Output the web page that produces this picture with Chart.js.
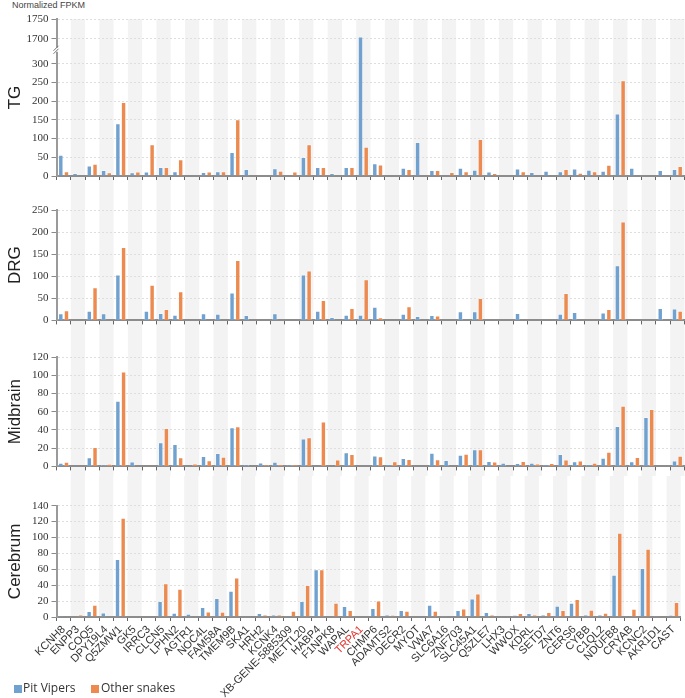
<!DOCTYPE html>
<html>
<head>
<meta charset="utf-8">
<script src="https://cdn.jsdelivr.net/npm/chart.js@4.4.1/dist/chart.umd.min.js"></script>
<style>
  body { margin: 0; background: #fff; }
  #wrap { position: relative; width: 685px; height: 698px; overflow: hidden; font-family: "Liberation Sans", Arial, sans-serif; }
  .panel { position: absolute; left: 0; }
  #unit { position: absolute; left: 12px; top: 0px; font-size: 9px; color: #444; }
  .sw { position: absolute; width: 8px; height: 8px; top: 685px; }
  .lg { position: absolute; top: 679px; font-family: "Open Sans", sans-serif; font-size: 12px; color: #333; }
</style>
</head>
<body>
<div id="wrap">
  <div id="unit">Normalized FPKM</div>
  <canvas id="tg" class="panel"></canvas>
  <canvas id="drg" class="panel"></canvas>
  <canvas id="mid" class="panel"></canvas>
  <canvas id="cer" class="panel"></canvas>
  <span class="sw" id="sw1" style="left:14px"></span><span class="lg" style="left:23px">Pit Vipers</span>
  <span class="sw" id="sw2" style="left:91px"></span><span class="lg" style="left:101px">Other snakes</span>
</div>
<script>
var genes = ['KCNH8','ENPP3','COQ5','DPY19L4','Q5ZMW1','GK5','IRRC3','CLCN5','LPHN2','AGTR1',
  'NOC4L','FAM58A','TMEM9B','SKA1','HRH2','KCNK4','XB-GENE-5885309','METTL20','HABP4','F1NPK8',
  'WAPAL','TRPA1','CHMP6','ADAMTS2','DECR2','MYOT','VWA7','SLC6A16','ZNF703','SLC45A1',
  'Q5ZLE7','LHX3','WWOX','KDRL','SETD7','ZNT6','CERS6','CYBB','C1QL2','NDUFB8',
  'CRYAB','KCNC2','AKR1D1','CAST'];

// TG
var tgPit = [57,8,28,16,141,10,12,24,13,null, 11,13,64,19,null,21,null,51,24,8,
  24,1706,34,null,22,91,16,null,22,17, 12,null,20,11,14,13,20,17,14,167, 22,null,16,19];
var tgOther = [13,null,33,10,198,12,85,24,45,null, 12,13,152,null,null,14,12,85,24,null,
  24,78,31,null,19,null,16,11,13,99, 8,null,13,null,null,19,9,12.5,30,256, null,null,null,27];
// DRG
var drgPit = [16,null,22,16,104,null,22,17,13,null, 16,15,63,12,null,16,null,104,22,7.5,
  13,13,31,null,15,10,12,null,21,21, null,null,17,null,null,15,19,null,18,125, null,null,28,27];
var drgOther = [23,null,75,null,166,null,81,26,66,null, null,null,137,null,null,null,null,113,46,null,
  28,93,7,null,32,null,11,null,null,51, null,null,null,null,null,62,null,null,26,224, null,null,null,22];
// Midbrain
var midPit = [4,null,10,2,72,5.4,null,26.4,24.6,null, 11.4,14.6,43,2,4.3,5,1.8,30.7,null,null,
  15.5,null,12,2.5,9.3,null,15,7.1,12.9,18.9, 6,3.9,3.6,3.9,2.1,13.6,5.7,2.5,9.6,44.3, 5.7,54.3,null,6.4];
var midOther = [5,null,21.4,3,104,null,null,42,10,3.2, 6.8,10.7,44,null,2,2.5,2,32,49.3,7.5,
  13.6,null,11,5.7,8.2,null,7.9,null,13.9,18.9, 5.4,null,6,3.2,3.6,7.5,6.4,3.9,16,66.4, 10.4,62.9,null,11.8];
// Cerebrum
var cerPit = [1.7,null,7.5,5.8,72.8,null,null,20,5.4,4.2, 12.5,24,33,null,5,2.9,1.7,20,60,null,
  13.75,null,11.25,2.9,8.75,null,15.4,1.7,8.75,23.3, 6.25,null,2.5,5,2.9,14.2,17.9,2.9,2.9,53.3, null,61.5,2.1,2.5];
var cerOther = [null,3.3,15.4,null,125,null,null,42.5,35.4,null, 7,6.7,49.6,null,2.9,2.9,7.9,40.4,60,18,
  8.75,null,20.8,2.5,7.9,null,7.9,null,10.8,29.6, 3.3,null,5,2.9,6.25,8.75,22.5,9.2,5.4,106, 10.4,86,null,18.75];

var tgTicks = [0, 50, 100, 150, 200, 250, 300, 1700, 1750];

var BLUE = '#70a1cf';
var ORANGE = '#ec8a50';
var EDGE = 'rgba(255,255,255,0.3)';
var RED_GENE = 'TRPA1';

document.getElementById('sw1').style.background = BLUE;
document.getElementById('sw2').style.background = ORANGE;

// broken y axis for TG: value breakpoints and where they sit on the axis (0..1)
var brkVals = [0, 330, 1680, 1750];
var brkFrac = [0, 0.786, 0.822, 1];

function toFrac(v) {
  for (var i = 1; i < brkVals.length; i++) {
    if (v <= brkVals[i] || i == brkVals.length - 1) {
      var t = (v - brkVals[i-1]) / (brkVals[i] - brkVals[i-1]);
      return brkFrac[i-1] + t * (brkFrac[i] - brkFrac[i-1]);
    }
  }
}
function fromFrac(f) {
  for (var i = 1; i < brkFrac.length; i++) {
    if (f <= brkFrac[i] || i == brkFrac.length - 1) {
      var t = (f - brkFrac[i-1]) / (brkFrac[i] - brkFrac[i-1]);
      return brkVals[i-1] + t * (brkVals[i] - brkVals[i-1]);
    }
  }
}

class BrokenScale extends Chart.LinearScale {
  buildTicks() {
    this.min = brkVals[0];
    this.max = brkVals[brkVals.length - 1];
    return tgTicks.map(function (v) { return { value: v }; });
  }
  getPixelForValue(value) {
    return this.getPixelForDecimal(toFrac(value));
  }
  getValueForPixel(pixel) {
    return fromFrac(this.getDecimalForPixel(pixel));
  }
}
BrokenScale.id = 'broken';
BrokenScale.defaults = Chart.LinearScale.defaults;
Chart.register(BrokenScale);

// grey bands behind every other gene
var stripes = {
  id: 'stripes',
  beforeDraw: function (chart, args, opts) {
    var x = chart.scales.x, area = chart.chartArea, ctx = chart.ctx;
    var top = opts.top == 'area' ? area.top : 0;
    var bottom = opts.bottom == 'area' ? area.bottom : chart.height;
    var w = x.getPixelForValue(1) - x.getPixelForValue(0);
    ctx.save();
    ctx.fillStyle = '#f3f3f3';
    for (var i = 1; i < genes.length; i += 2) {
      ctx.fillRect(x.getPixelForValue(i) - w / 2, top, w, bottom - top);
    }
    ctx.restore();
  }
};

// the // mark on the TG axis
var breakMark = {
  id: 'breakMark',
  afterDraw: function (chart) {
    var y = chart.scales.y, ctx = chart.ctx;
    var ax = chart.chartArea.left;
    var mid = y.getPixelForValue((brkVals[1] + brkVals[2]) / 2);
    ctx.save();
    ctx.fillStyle = '#fff';
    ctx.fillRect(ax - 2, mid - 2, 4, 4);
    ctx.strokeStyle = '#777';
    ctx.lineWidth = 1;
    ctx.beginPath();
    ctx.moveTo(ax - 3, mid + 1); ctx.lineTo(ax + 2, mid - 4);
    ctx.moveTo(ax - 3, mid + 4); ctx.lineTo(ax + 2, mid - 1);
    ctx.stroke();
    ctx.restore();
  }
};

function makePanel(id, title, pit, other, p) {
  var cv = document.getElementById(id);
  cv.width = 685; cv.height = p.h;
  cv.style.top = p.top + 'px';
  var last = id == 'cer';

  var yScale = {
    type: p.broken ? 'broken' : 'linear',
    min: 0,
    max: p.max,
    ticks: {
      stepSize: p.step,
      autoSkip: false,
      padding: 3,
      color: '#333',
      font: { family: '"Liberation Serif", "Times New Roman", serif', size: 11 },
      callback: function (v) { return String(v); }
    },
    grid: { color: '#dedede', tickColor: '#8a8a8a', tickLength: 5 },
    border: { color: '#9a9a9a', width: 2, dash: [2, 2] },
    title: {
      display: true, text: title, color: '#222',
      font: { family: '"Liberation Sans", Arial, sans-serif', size: 17 },
      padding: { top: 5, bottom: 0 }
    },
    afterFit: function (s) { s.width = 56.5; }
  };

  var xScale = {
    grid: { offset: true, drawOnChartArea: false, tickLength: 4, tickColor: '#666' },
    border: { color: '#8c8c8c', width: 2 },
    ticks: {
      display: last,
      autoSkip: false,
      minRotation: 45,
      maxRotation: 45,
      padding: 2,
      font: { family: '"Liberation Sans", Arial, sans-serif', size: 11 },
      color: function (c) { return genes[c.index] == RED_GENE ? '#e8322d' : '#333'; }
    },
    afterFit: function (s) { s.height = p.xh; }
  };

  return new Chart(cv, {
    type: 'bar',
    data: {
      labels: genes,
      datasets: [
        { label: 'Pit Vipers', data: pit, backgroundColor: BLUE, borderColor: EDGE, borderWidth: 1 },
        { label: 'Other snakes', data: other, backgroundColor: ORANGE, borderColor: EDGE, borderWidth: 1 }
      ]
    },
    options: {
      responsive: false,
      animation: false,
      layout: { padding: { top: p.pt, bottom: p.pb, left: 0, right: 0.5 } },
      datasets: { bar: { categoryPercentage: 0.8, barPercentage: 0.95 } },
      plugins: {
        legend: { display: false },
        tooltip: { enabled: false },
        stripes: { top: p.stripeTop, bottom: p.stripeBottom }
      },
      scales: { x: xScale, y: yScale }
    },
    plugins: p.broken ? [stripes, breakMark] : [stripes]
  });
}

makePanel('tg', 'TG', tgPit, tgOther,
  { top: 0, h: 186, pt: 19, pb: 4, xh: 6, broken: true, max: 1750, step: 50, stripeTop: 'area', stripeBottom: 'canvas' });
makePanel('drg', 'DRG', drgPit, drgOther,
  { top: 186, h: 144, pt: 24, pb: 2.3, xh: 6, max: 250, step: 50, stripeTop: 'canvas', stripeBottom: 'canvas' });
makePanel('mid', 'Midbrain', midPit, midOther,
  { top: 330, h: 146, pt: 27, pb: 1, xh: 6, max: 120, step: 20, stripeTop: 'canvas', stripeBottom: 'canvas' });
makePanel('cer', 'Cerebrum', cerPit, cerOther,
  { top: 476, h: 222, pt: 29.7, pb: 0, xh: 81, max: 140, step: 20, stripeTop: 'canvas', stripeBottom: 'area' });
</script>
</body>
</html>
